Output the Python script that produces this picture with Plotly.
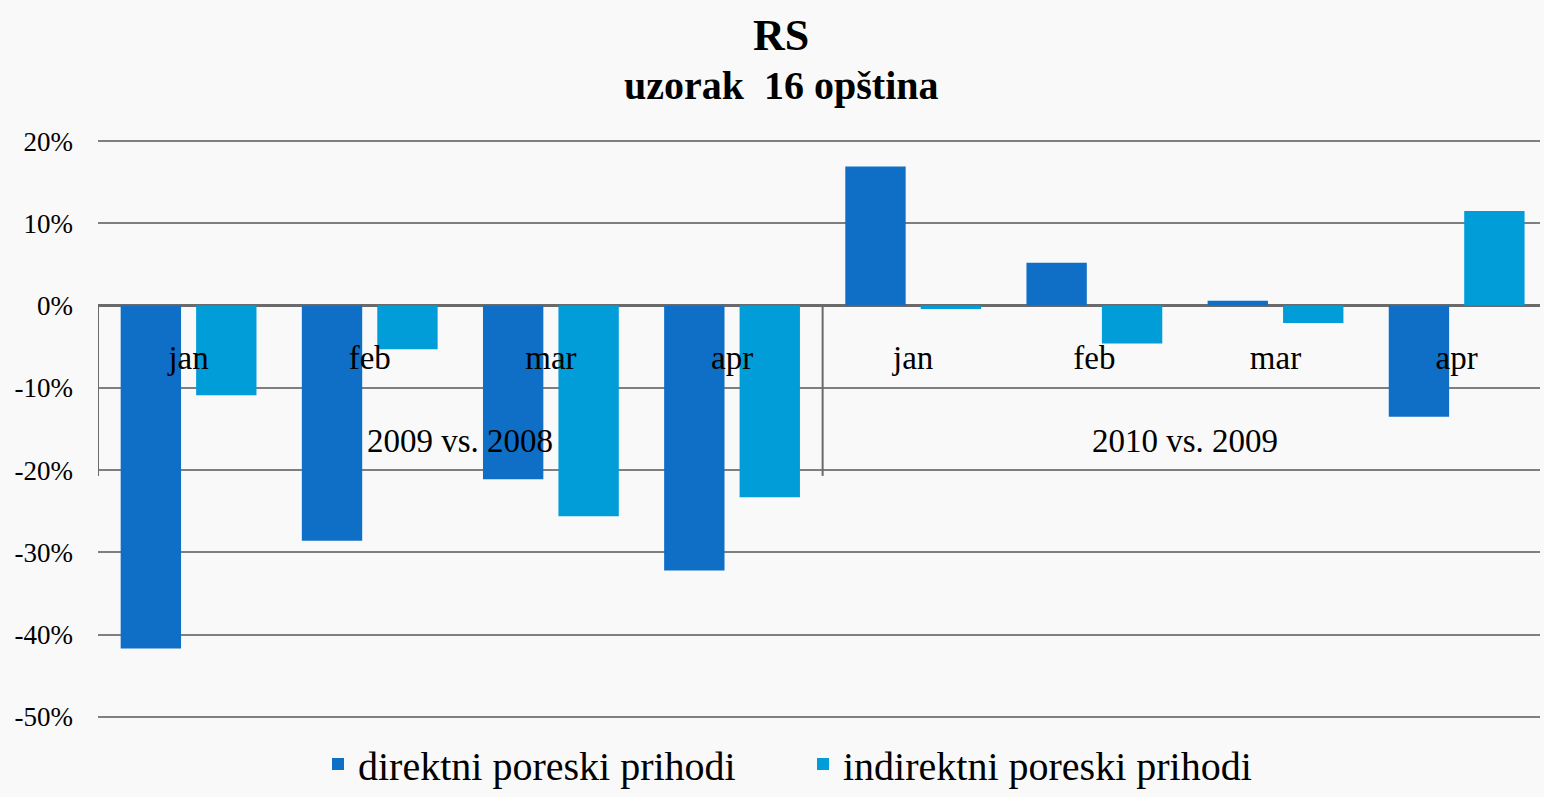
import plotly.graph_objects as go

# ---- data ----
months = ["jan", "feb", "mar", "apr", "jan", "feb", "mar", "apr"]
periods = ["2009 vs. 2008"] * 4 + ["2010 vs. 2009"] * 4
categories = [f"{m} {p}" for m, p in zip(months, periods)]
direktni = [-41.7, -28.6, -21.1, -32.2, 16.9, 5.2, 0.6, -13.5]
indirektni = [-10.9, -5.3, -25.6, -23.3, -0.4, -4.6, -2.1, 11.5]
series_names = ["direktni poreski prihodi", "indirektni poreski prihodi"]
group_labels = ["2009 vs. 2008", "2010 vs. 2009"]
title_text = "RS"
subtitle_text = "uzorak&nbsp;&nbsp;16 opština"
y_tickvals = [20, 10, 0, -10, -20, -30, -40, -50]
y_ticktext = ["20%", "10%", "0%", "-10%", "-20%", "-30%", "-40%", "-50%"]

FONT = "Liberation Serif"
C1 = "#0f6fc6"
C2 = "#009dd9"
BG = "#f9f9f9"
GRID = "#7f7f7f"
Y_RANGE = [-50.5, 20.5]
X_RANGE = [-0.5, 7.46]
W, H = 1544, 797
ML, MR, MT, MB = 98, 4, 137, 76


def px_to_paper_x(px):
    return (px - ML) / (W - ML - MR)


def px_to_paper_y(py):
    return (H - MB - py) / (H - MT - MB)


fig = go.Figure()
fig.add_trace(go.Bar(x=categories, y=direktni, name=series_names[0],
                     marker=dict(color=C1, line=dict(width=0))))
fig.add_trace(go.Bar(x=categories, y=indirektni, name=series_names[1],
                     marker=dict(color=C2, line=dict(width=0))))

zero_frac = (0 - Y_RANGE[0]) / (Y_RANGE[1] - Y_RANGE[0])

fig.update_layout(
    width=W, height=H,
    margin=dict(l=ML, r=MR, t=MT, b=MB, autoexpand=False),
    paper_bgcolor=BG, plot_bgcolor=BG,
    barmode="group", bargap=0.167, bargroupgap=0.2,
    font=dict(family=FONT, color="#000000"),
    xaxis=dict(
        type="category", range=X_RANGE,
        tickvals=categories, ticktext=months,
        anchor="free", position=zero_frac,
        showgrid=False, showline=False, zeroline=False, ticks="",
        tickfont=dict(family=FONT, size=33, color="#000000"),
        ticklabelstandoff=29,
    ),
    yaxis=dict(
        range=Y_RANGE,
        tickvals=y_tickvals, ticktext=y_ticktext,
        showgrid=True, gridcolor=GRID, gridwidth=2,
        zeroline=True, zerolinecolor="#6a6a6a", zerolinewidth=2.5,
        showline=False, ticks="",
        tickfont=dict(family=FONT, size=27, color="#000000"),
        ticklabelstandoff=24,
    ),
    legend=dict(
        orientation="h", xref="paper", yref="paper",
        x=px_to_paper_x(318), xanchor="left",
        y=px_to_paper_y(764), yanchor="middle",
        font=dict(family=FONT, size=40, color="#000000"),
        bgcolor="rgba(0,0,0,0)", traceorder="normal",
        entrywidth=440, entrywidthmode="pixels",
    ),
    showlegend=True,
)

# title lines
fig.add_annotation(text=f"<b>{title_text}</b>", xref="paper", yref="paper",
                   x=px_to_paper_x(781), y=px_to_paper_y(35), xanchor="center", yanchor="middle",
                   showarrow=False, font=dict(family=FONT, size=44, color="#000000"))
fig.add_annotation(text=f"<b>{subtitle_text}</b>", xref="paper", yref="paper",
                   x=px_to_paper_x(781), y=px_to_paper_y(85), xanchor="center", yanchor="middle",
                   showarrow=False, font=dict(family=FONT, size=40, color="#000000"))

# group dividers (left edge and middle)
for xb in [-0.5, 3.5]:
    fig.add_shape(type="line", xref="x", yref="y", x0=xb, x1=xb, y0=0, y1=-20.7,
                  line=dict(color="#6a6a6a", width=2), layer="above")

# group labels
for i, g in enumerate(group_labels):
    fig.add_annotation(x=1.5 + 4 * i, y=-16.5, xref="x", yref="y", text=g,
                       showarrow=False, font=dict(family=FONT, size=33, color="#000000"),
                       xanchor="center", yanchor="middle")

fig.write_html("out.html", post_script="document.body.style.margin='0';",
               config={"displayModeBar": False})
